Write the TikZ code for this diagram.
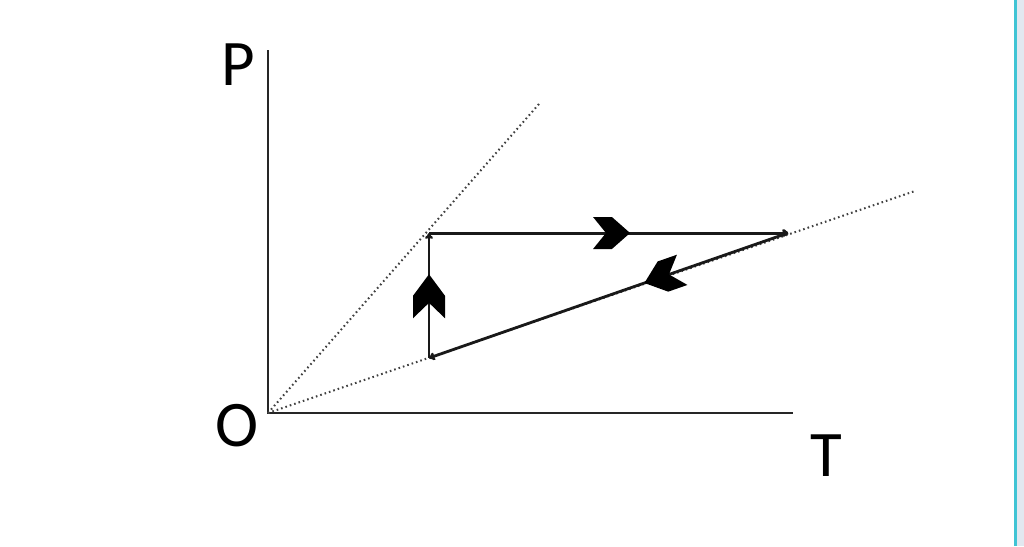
\documentclass[tikz,border=0pt]{standalone}
\usepackage{fontspec}
\setmainfont{Carlito}
\usetikzlibrary{arrows.meta,decorations.markings}
\definecolor{screenedge}{RGB}{64,196,212}
\definecolor{screenside}{RGB}{226,232,240}
\begin{document}
\begin{tikzpicture}
        [
        x = 1pt, y = -1pt,
        axis/.style = {draw=black!85, line width=2.4pt},
        guide/.style = {draw=black!75, line width=2pt, dash pattern=on 1.6pt off 3pt},
        leg/.style = {draw=black!90, -{To[length=6pt,width=8pt]}},
        chevron/.style 2 args = {postaction={decorate}, decoration={markings,
            mark=at position #1 with {\fill[black] (0,0) -- (-0.49*#2,-16) -- (-#2,-16)
                -- (-0.65*#2,0) -- (-#2,16) -- (-0.49*#2,16) -- cycle;}}},
        ]
        \tikzstyle{axis label}=[inner sep=0, anchor=base, font=\fontsize{65}{65}\selectfont]

        \useasboundingbox (0,0) rectangle (1024,546);
        \fill[white] (0,0) rectangle (1024,546);
        % screen edge
        \fill[screenside] (1016,0) rectangle (1024,546);
        \draw[screenedge, line width=3pt] (1015,0) -- (1015,546);

        % axes
        \coordinate (O) at (268,413);
        \coordinate (ytop) at (268,50);
        \coordinate (xend) at (793,413);
        \draw[axis] (ytop) -- (O) -- (xend);
        \node[axis label] (P) at (238,85) {P};
        \node[axis label] (origin) at (237,446) {O};
        \node[axis label] (T) at (826,476) {T};

        % cycle corners
        \coordinate (A) at (429,358);
        \coordinate (B) at (429,233);
        \coordinate (C) at (788,233);
        \coordinate (steep) at (539,104);
        \coordinate (flat) at (915,191);
        \draw[guide] (O) -- (steep);
        \draw[guide] (O) -- (flat);

        % cycle
        \draw[leg, line width=2.4pt, chevron={0.67}{44}] (A) -- (B);
        \draw[leg, line width=3pt, chevron={0.56}{37}] (B) -- (C);
        \draw[leg, line width=2.8pt, chevron={0.40}{40}] (C) -- (A);
\end{tikzpicture}
\end{document}
